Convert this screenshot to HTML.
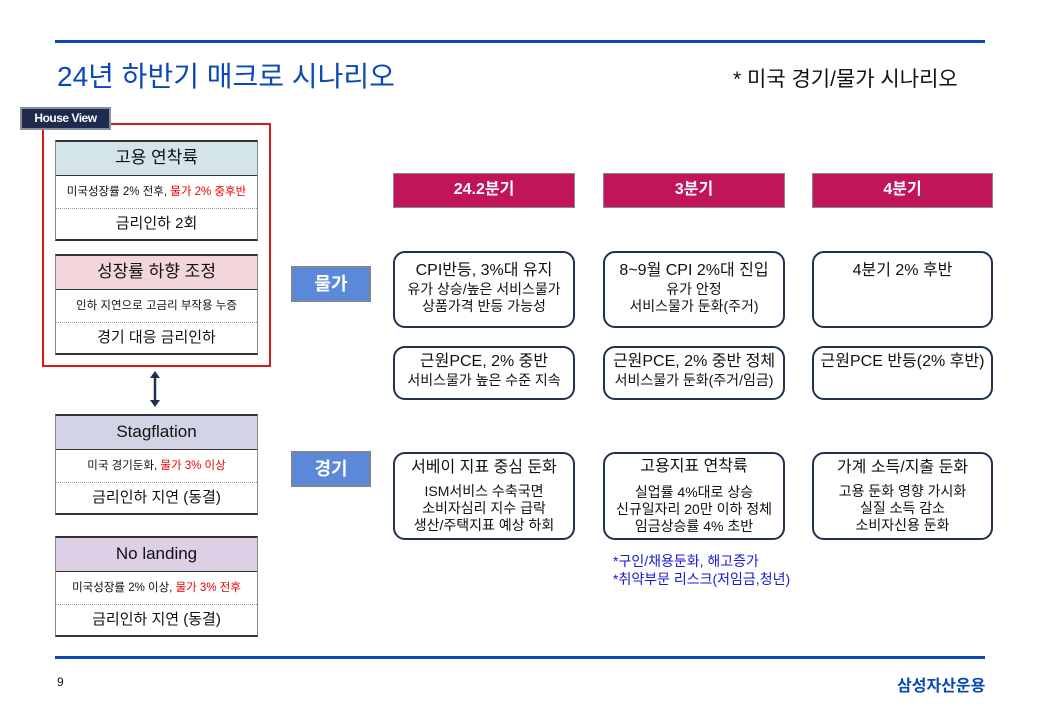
<!DOCTYPE html>
<html><head><meta charset="utf-8"><style>
*{margin:0;padding:0;box-sizing:border-box}
body{width:1040px;height:720px;background:#fff;position:relative;overflow:hidden;font-family:"Liberation Sans","Noto Sans CJK KR",sans-serif;color:#111}
.a{position:absolute}
.hl{position:absolute;left:55px;width:930px;height:3px;background:#0a47b8}
.tbl{position:absolute;left:55px;width:203px;height:101px;border-top:2px solid #333;border-bottom:2px solid #333;border-left:1px solid #888;border-right:1px solid #888}
.tbl .h{height:34px;border-bottom:1.5px solid #333;font-size:17px;text-align:center;line-height:32px}
.tbl .r1{height:33px;font-size:11.5px;text-align:center;line-height:33px;border-bottom:1px dotted #999}
.tbl .r2{height:31px;font-size:15px;text-align:center;line-height:30px}
.red{color:#e00}
.q{position:absolute;top:173px;height:35px;background:#c2145b;border:1.5px solid #888;color:#fff;font-size:16px;font-weight:bold;text-align:center;line-height:32px}
.lab{position:absolute;left:291px;width:80px;height:36px;background:#5b88d8;border:2px solid #7a8794;color:#fff;font-size:18px;font-weight:bold;text-align:center;line-height:32px}
.box{position:absolute;border:2px solid #1f3050;border-radius:12px;text-align:center;font-size:14px;line-height:17px}
.box b{font-size:16px;font-weight:normal;display:block;line-height:20px}
</style></head><body>
<div class="hl" style="top:40px"></div>
<div class="a" style="left:57px;top:55px;font-size:28px;color:#0a47b8">24년 하반기 매크로 시나리오</div>
<div class="a" style="left:733px;top:63px;font-size:21px">* 미국 경기/물가 시나리오</div>

<div class="a" style="left:42px;top:123px;width:229px;height:244px;border:2px solid #d41a1a"></div>
<div class="a" style="left:20px;top:107px;width:91px;height:23px;background:#1e2b4f;border:2px solid #8a8f99;color:#fff;font-size:12px;font-weight:bold;text-align:center;line-height:19px;letter-spacing:-0.5px">House View</div>

<div class="tbl" style="top:140px"><div class="h" style="background:#d3e5ea">고용 연착륙</div><div class="r1">미국성장률 2% 전후, <span class="red">물가 2% 중후반</span></div><div class="r2">금리인하 2회</div></div>
<div class="tbl" style="top:254px"><div class="h" style="background:#f3d5dc">성장률 하향 조정</div><div class="r1">인하 지연으로 고금리 부작용 누증</div><div class="r2">경기 대응 금리인하</div></div>

<svg class="a" style="left:148px;top:370px" width="14" height="38"><line x1="7" y1="6" x2="7" y2="32" stroke="#1f3050" stroke-width="2.5"/><polygon points="2,8 7,1 12,8" fill="#1f3050"/><polygon points="2,30 7,37 12,30" fill="#1f3050"/></svg>

<div class="tbl" style="top:414px"><div class="h" style="background:#d2d4e6">Stagflation</div><div class="r1">미국 경기둔화, <span class="red">물가 3% 이상</span></div><div class="r2">금리인하 지연 (동결)</div></div>
<div class="tbl" style="top:536px"><div class="h" style="background:#dccfe6">No landing</div><div class="r1">미국성장률 2% 이상, <span class="red">물가 3% 전후</span></div><div class="r2">금리인하 지연 (동결)</div></div>

<div class="q" style="left:393px;width:182px">24.2분기</div>
<div class="q" style="left:603px;width:182px">3분기</div>
<div class="q" style="left:812px;width:181px">4분기</div>

<div class="lab" style="top:266px">물가</div>
<div class="lab" style="top:451px">경기</div>

<div class="box" style="left:393px;top:251px;width:182px;height:77px;padding-top:8px"><b>CPI반등, 3%대 유지</b>유가 상승/높은 서비스물가<br>상품가격 반등 가능성</div>
<div class="box" style="left:603px;top:251px;width:182px;height:77px;padding-top:8px"><b>8~9월 CPI 2%대 진입</b>유가 안정<br>서비스물가 둔화(주거)</div>
<div class="box" style="left:812px;top:251px;width:181px;height:77px;padding-top:8px"><b>4분기 2% 후반</b></div>

<div class="box" style="left:393px;top:346px;width:182px;height:54px;padding-top:4px"><b>근원PCE, 2% 중반</b>서비스물가 높은 수준 지속</div>
<div class="box" style="left:603px;top:346px;width:182px;height:54px;padding-top:4px"><b>근원PCE, 2% 중반 정체</b>서비스물가 둔화(주거/임금)</div>
<div class="box" style="left:812px;top:346px;width:181px;height:54px;padding-top:4px"><b>근원PCE 반등(2% 후반)</b></div>

<div class="box" style="left:393px;top:452px;width:182px;height:88px;padding-top:4px"><b style="margin-bottom:5px">서베이 지표 중심 둔화</b>ISM서비스 수축국면<br>소비자심리 지수 급락<br>생산/주택지표 예상 하회</div>
<div class="box" style="left:603px;top:452px;width:182px;height:88px;padding-top:3px"><b style="margin-bottom:7px">고용지표 연착륙</b>실업률 4%대로 상승<br>신규일자리 20만 이하 정체<br>임금상승률 4% 초반</div>
<div class="box" style="left:812px;top:452px;width:181px;height:88px;padding-top:4px"><b style="margin-bottom:5px">가계 소득/지출 둔화</b>고용 둔화 영향 가시화<br>실질 소득 감소<br>소비자신용 둔화</div>

<div class="a" style="left:613px;top:552px;font-size:14px;line-height:18px;color:#1a1ad0">*구인/채용둔화, 해고증가<br>*취약부문 리스크(저임금,청년)</div>

<div class="hl" style="top:656px"></div>
<div class="a" style="left:57px;top:675px;font-size:12px">9</div>
<div class="a" style="left:897px;top:672px;font-size:16px;font-weight:bold;color:#0a47b8">삼성자산운용</div>
</body></html>
